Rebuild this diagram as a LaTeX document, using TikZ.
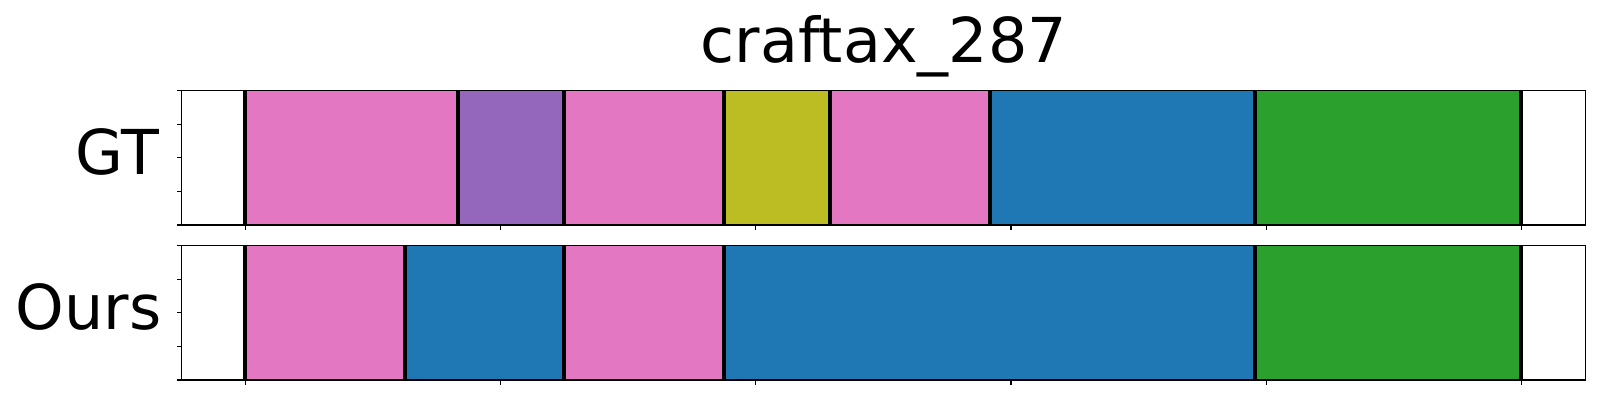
\documentclass[tikz,border=0pt]{standalone}
\usepackage{fontspec}
\setmainfont{DejaVu Sans}
\definecolor{tabpink}{HTML}{E377C2}
\definecolor{tabpurple}{HTML}{9467BD}
\definecolor{tabolive}{HTML}{BCBD22}
\definecolor{tabblue}{HTML}{1F77B4}
\definecolor{tabgreen}{HTML}{2CA02C}
\begin{document}
\begin{tikzpicture}
	[x=0.01cm,y=-0.01cm,
	 cut/.style={black,line width=0.045cm},
	 frame/.style={draw=black,line width=0.011cm},
	 tick/.style={black,line width=0.011cm},
	 lbl/.style={font=\fontsize{17.6}{18}\selectfont,inner sep=0pt}]
	\useasboundingbox (0,0) rectangle (1600,400);
	% GT row
	\foreach \a/\b/\c in {245/458/tabpink,458/564/tabpurple,564/724/tabpink,724/830/tabolive,830/990/tabpink,990/1255/tabblue,1255/1521/tabgreen}
		\fill[\c] (\a,90.5) rectangle (\b,225);
	\foreach \x in {245,458,564,724,830,990,1255,1521}
		\draw[cut] (\x,90.5) -- (\x,225);
	\draw[frame] (181.7,90.5) rectangle (1585.7,225);
	% Ours row
	\foreach \a/\b/\c in {245/405/tabpink,405/564/tabblue,564/724/tabpink,724/1255/tabblue,1255/1521/tabgreen}
		\fill[\c] (\a,245.5) rectangle (\b,380);
	\foreach \x in {245,405,564,724,1255,1521}
		\draw[cut] (\x,245.5) -- (\x,380);
	\draw[frame] (181.7,245.5) rectangle (1585.7,380);
	% ticks
	\foreach \t in {90.5,245.5}{
		\foreach \k in {0,...,4}
			\draw[tick] (181.7,\t+33.625*\k) -- ++(-5,0);
		\foreach \k in {0,...,5}
			\draw[tick] (245.5+255.15*\k,\t+134.5) -- ++(0,5);
	}
	\node[lbl,anchor=base east] (gt) at (159.5,174) {GT};
	\node[lbl,anchor=base east] (ours) at (162,329) {Ours};
	\node[lbl,anchor=base] (title) at (883.7,62) {craftax\_287};
\end{tikzpicture}
\end{document}
